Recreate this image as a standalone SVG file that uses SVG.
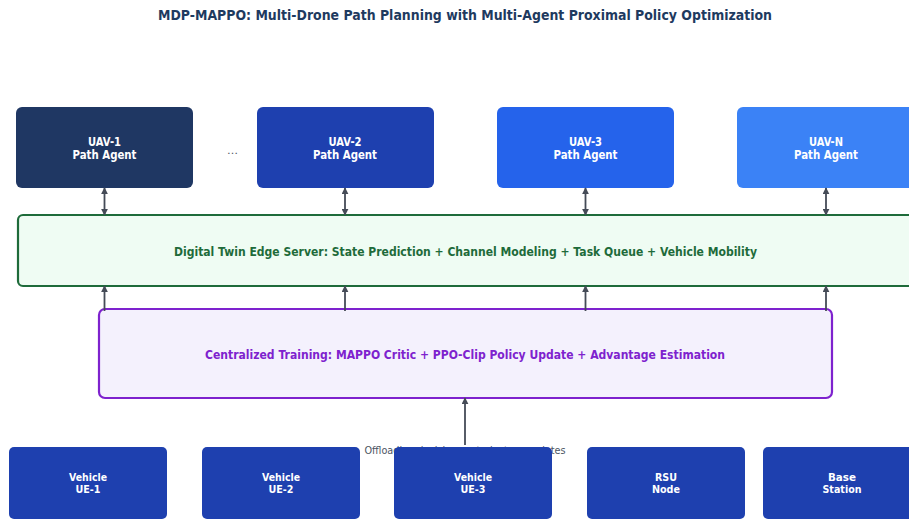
<svg xmlns="http://www.w3.org/2000/svg" width="909" height="521" viewBox="0 0 909 521">
  <style>
    text { font-family: "DejaVu Sans", "Liberation Sans", sans-serif; text-anchor: middle; }
    .title { font-size: 14.5px; font-weight: bold; fill: #1e3a5f; }
    .agent { font-size: 12.5px; font-weight: bold; fill: #ffffff; }
    .ue { font-size: 11px; font-weight: bold; fill: #ffffff; }
    .band { font-size: 12.5px; font-weight: bold; }
    .note { font-size: 11px; fill: #4b5563; }
    .conn { stroke: #454b57; stroke-width: 1.8; fill: none; }
  </style>
  <defs>
    <marker id="head" viewBox="0 0 10 10" refX="9" refY="5" markerWidth="7" markerHeight="7" markerUnits="userSpaceOnUse" orient="auto-start-reverse">
      <path d="M0,0 L10,5 L0,10 z" fill="#454b57"/>
    </marker>
  </defs>
  <rect width="909" height="521" fill="#ffffff"/>

  <text class="title" x="465" y="20" textLength="614" lengthAdjust="spacingAndGlyphs">MDP-MAPPO: Multi-Drone Path Planning with Multi-Agent Proximal Policy Optimization</text>

  <!-- digital twin band -->
  <g id="digital-twin">
    <rect x="18" y="215" width="905" height="71" rx="5" fill="#effcf3" stroke="#1e6b3a" stroke-width="2.2"/>
    <text class="band" x="465.5" y="255.5" fill="#1e6b3a" textLength="583" lengthAdjust="spacingAndGlyphs">Digital Twin Edge Server: State Prediction + Channel Modeling + Task Queue + Vehicle Mobility</text>
  </g>

  <!-- centralized training band -->
  <g id="centralized-training">
    <rect x="99" y="309" width="733" height="89" rx="6" fill="#f4f1fd" stroke="#7e22ce" stroke-width="2.2"/>
    <text class="band" x="465" y="358.5" fill="#7e22ce" textLength="520" lengthAdjust="spacingAndGlyphs">Centralized Training: MAPPO Critic + PPO-Clip Policy Update + Advantage Estimation</text>
  </g>

  <!-- UAV agents -->
  <g id="uav-1">
    <rect x="16" y="107" width="177" height="81" rx="6" fill="#1f3763"/>
    <text class="agent" x="104.5" y="145.5" textLength="33" lengthAdjust="spacingAndGlyphs">UAV-1</text>
    <text class="agent" x="104.5" y="159" textLength="64" lengthAdjust="spacingAndGlyphs">Path Agent</text>
  </g>
  <text class="note" x="232.5" y="154" font-size="12">…</text>
  <g id="uav-2">
    <rect x="257" y="107" width="177" height="81" rx="6" fill="#1e40af"/>
    <text class="agent" x="345" y="145.5" textLength="33" lengthAdjust="spacingAndGlyphs">UAV-2</text>
    <text class="agent" x="345" y="159" textLength="64" lengthAdjust="spacingAndGlyphs">Path Agent</text>
  </g>
  <g id="uav-3">
    <rect x="497" y="107" width="177" height="81" rx="6" fill="#2563eb"/>
    <text class="agent" x="585.5" y="145.5" textLength="33" lengthAdjust="spacingAndGlyphs">UAV-3</text>
    <text class="agent" x="585.5" y="159" textLength="64" lengthAdjust="spacingAndGlyphs">Path Agent</text>
  </g>
  <g id="uav-n">
    <rect x="737" y="107" width="177" height="81" rx="6" fill="#3b82f6"/>
    <text class="agent" x="826" y="145.5" textLength="34" lengthAdjust="spacingAndGlyphs">UAV-N</text>
    <text class="agent" x="826" y="159" textLength="64" lengthAdjust="spacingAndGlyphs">Path Agent</text>
  </g>

  <!-- connectors -->
  <g id="connectors">
    <line class="conn" x1="104.5" y1="188" x2="104.5" y2="215" marker-start="url(#head)" marker-end="url(#head)"/>
    <line class="conn" x1="345" y1="188" x2="345" y2="215" marker-start="url(#head)" marker-end="url(#head)"/>
    <line class="conn" x1="585.5" y1="188" x2="585.5" y2="215" marker-start="url(#head)" marker-end="url(#head)"/>
    <line class="conn" x1="826" y1="188" x2="826" y2="215" marker-start="url(#head)" marker-end="url(#head)"/>

    <line class="conn" x1="104.5" y1="311" x2="104.5" y2="286" marker-end="url(#head)"/>
    <line class="conn" x1="345" y1="311" x2="345" y2="286" marker-end="url(#head)"/>
    <line class="conn" x1="585.5" y1="311" x2="585.5" y2="286" marker-end="url(#head)"/>
    <line class="conn" x1="826" y1="311" x2="826" y2="286" marker-end="url(#head)"/>

    <line class="conn" x1="465" y1="445" x2="465" y2="398" marker-end="url(#head)"/>
    <text class="note" x="465" y="453.5" textLength="201" lengthAdjust="spacingAndGlyphs">Offloading decisions + trajectory updates</text>
  </g>

  <!-- edge entities -->
  <g id="vehicle-ue-1">
    <rect x="9" y="447" width="158" height="72" rx="5" fill="#1e40af"/>
    <text class="ue" x="88" y="480.5" textLength="38" lengthAdjust="spacingAndGlyphs">Vehicle</text>
    <text class="ue" x="88" y="492.5" textLength="25" lengthAdjust="spacingAndGlyphs">UE-1</text>
  </g>
  <g id="vehicle-ue-2">
    <rect x="202" y="447" width="158" height="72" rx="5" fill="#1e40af"/>
    <text class="ue" x="281" y="480.5" textLength="38" lengthAdjust="spacingAndGlyphs">Vehicle</text>
    <text class="ue" x="281" y="492.5" textLength="25" lengthAdjust="spacingAndGlyphs">UE-2</text>
  </g>
  <g id="vehicle-ue-3">
    <rect x="394" y="447" width="158" height="72" rx="5" fill="#1e40af"/>
    <text class="ue" x="473" y="480.5" textLength="38" lengthAdjust="spacingAndGlyphs">Vehicle</text>
    <text class="ue" x="473" y="492.5" textLength="25" lengthAdjust="spacingAndGlyphs">UE-3</text>
  </g>
  <g id="rsu-node">
    <rect x="587" y="447" width="158" height="72" rx="5" fill="#1e40af"/>
    <text class="ue" x="666" y="480.5" textLength="22" lengthAdjust="spacingAndGlyphs">RSU</text>
    <text class="ue" x="666" y="492.5" textLength="28" lengthAdjust="spacingAndGlyphs">Node</text>
  </g>
  <g id="base-station">
    <rect x="763" y="447" width="158" height="72" rx="5" fill="#1e40af"/>
    <text class="ue" x="842" y="480.5" textLength="28" lengthAdjust="spacingAndGlyphs">Base</text>
    <text class="ue" x="842" y="492.5" textLength="39" lengthAdjust="spacingAndGlyphs">Station</text>
  </g>
</svg>
